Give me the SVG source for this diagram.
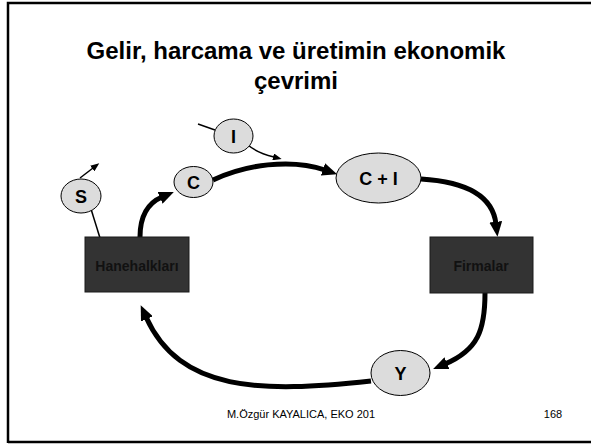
<svg xmlns="http://www.w3.org/2000/svg" width="591" height="444" viewBox="0 0 591 444">
<defs>
<style>
.t{font-family:"Liberation Sans",Arial,sans-serif;fill:#000}
.title{font-size:24px;font-weight:bold;text-anchor:middle}
.lbl{font-size:18px;font-weight:bold;text-anchor:middle}
.box{fill:#333;stroke:#1a1a1a;stroke-width:1}
.boxt{font-size:14px;font-weight:bold;text-anchor:middle;fill:#111}
.ell{fill:#dcdcdc;stroke:#000;stroke-width:1}
.thick{fill:none;stroke:#000;stroke-width:5}
.thin{fill:none;stroke:#000;stroke-width:1.5}
.foot{font-size:11px}
</style>
<marker id="big" viewBox="0 0 14 12" markerUnits="userSpaceOnUse" markerWidth="15" markerHeight="13" refX="2" refY="6" orient="auto">
<path d="M0,0 L14,6 L0,12 z" fill="#000"/>
</marker>
<marker id="small" viewBox="0 0 10 8" markerUnits="userSpaceOnUse" markerWidth="9" markerHeight="7" refX="1" refY="4" orient="auto">
<path d="M0,0 L10,4 L0,8 z" fill="#000"/>
</marker>
</defs>
<rect x="0" y="0" width="591" height="444" fill="#fff"/>
<path d="M8,443 L8,3 L591,3 M8,442 L591,442" fill="none" stroke="#000" stroke-width="2.5"/>
<text class="t title" x="296" y="59">Gelir, harcama ve üretimin ekonomik</text>
<text class="t title" x="296" y="89">çevrimi</text>
<g id="connectors">
<path class="thick" d="M140,237 C140,215 148,203 162,197" marker-end="url(#big)"/>
<path class="thick" d="M213,180 C245,165 290,158 325,170" marker-end="url(#big)"/>
<path class="thick" d="M421,179 C455,181 492,190 496,224" marker-end="url(#big)"/>
<path class="thick" d="M485,293 C485,330 478,350 445,364" marker-end="url(#big)"/>
<path class="thick" d="M371,381 C260,393 180,392 146,317" marker-end="url(#big)"/>
<path class="thin" d="M198,124 L215,130"/>
<path class="thin" d="M248,145 C256,152 266,155 274,157" marker-end="url(#small)"/>
<path class="thin" d="M80,178 L93,168" marker-end="url(#small)"/>
<path class="thin" d="M91,209 L100,238"/>
</g>
<g id="hanehalklari">
<rect class="box" x="85" y="237" width="104" height="55"/>
<text class="t boxt" x="137" y="271">Hanehalkları</text>
</g>
<g id="firmalar">
<rect class="box" x="430" y="237" width="103" height="56"/>
<text class="t boxt" x="481" y="271">Firmalar</text>
</g>
<g id="S">
<ellipse class="ell" cx="81" cy="196" rx="20" ry="17"/>
<text class="t lbl" x="81" y="202.5">S</text>
</g>
<g id="C">
<ellipse class="ell" cx="193.5" cy="182" rx="19.5" ry="15.5"/>
<text class="t lbl" x="193.5" y="188.5">C</text>
</g>
<g id="I">
<ellipse class="ell" cx="233.5" cy="136" rx="19.5" ry="17"/>
<text class="t lbl" x="233.5" y="142.5">I</text>
</g>
<g id="CI">
<ellipse class="ell" cx="378.5" cy="178" rx="42.5" ry="25"/>
<text class="t lbl" x="378.5" y="184.5">C + I</text>
</g>
<g id="Y">
<ellipse class="ell" cx="400.5" cy="373" rx="29.5" ry="22.5"/>
<text class="t lbl" x="400.5" y="379.5">Y</text>
</g>
<text class="t foot" x="301" y="418" text-anchor="middle">M.Özgür KAYALICA, EKO 201</text>
<text class="t foot" x="553" y="418" text-anchor="middle">168</text>
</svg>
